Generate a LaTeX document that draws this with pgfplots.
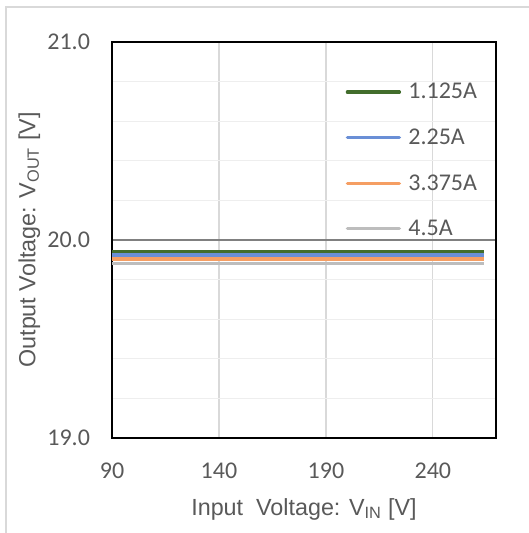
\documentclass[border=0pt]{standalone}
\usepackage{fontspec}
\setmainfont{Carlito}
\newfontfamily\arialf{Liberation Sans}
\usepackage{pgfplots}
\pgfplotsset{compat=1.18}
\definecolor{txt}{HTML}{595959}
\definecolor{cgreen}{HTML}{426D2C}
\definecolor{cblue}{HTML}{6A8FD6}
\definecolor{corange}{HTML}{F59E63}
\definecolor{cgray}{HTML}{BDBDBD}
\begin{document}
\begin{tikzpicture}
\useasboundingbox (0,0) rectangle (396.75pt,399.75pt);
\draw[color={rgb,255:red,217;green,217;blue,217}, line width=1.5pt] (4.5pt,0) -- (4.5pt,394.5pt) -- (396.75pt,394.5pt);
\begin{axis}[
  at={(84pt,71.25pt)}, anchor=south west,
  scale only axis, width=288pt, height=297pt,
  xmin=90, xmax=269.5, ymin=19, ymax=21,
  xtick={90,140,190,240}, ytick={19,20,21},
  minor ytick={19.2,19.4,19.6,19.8,20.2,20.4,20.6,20.8},
  tick style={draw=none},
  xmajorgrids, ymajorgrids, yminorgrids,
  x grid style={color={rgb,255:red,217;green,217;blue,217}, line width=0.9pt},
  major y grid style={color={rgb,255:red,128;green,128;blue,128}, line width=0.9pt},
  minor y grid style={color={rgb,255:red,238;green,238;blue,238}, line width=0.9pt},
  axis line style={black, line width=1.3pt},
  /pgf/number format/assume math mode=true,
  yticklabel style={/pgf/number format/fixed, /pgf/number format/fixed zerofill, /pgf/number format/precision=1, text=txt, font=\fontsize{18}{21}\selectfont, xshift=-13pt},
  xticklabel style={text=txt, font=\fontsize{18}{21}\selectfont, yshift=-15pt},
  xlabel={Input\ \ Voltage: V\textsubscript{IN} [V]},
  ylabel={Output Voltage: V\textsubscript{OUT} [V]},
  xlabel style={text=txt, font=\arialf\fontsize{17.5}{21}\selectfont, yshift=-8pt},
  ylabel style={text=txt, font=\arialf\fontsize{17.5}{21}\selectfont, yshift=-1.5pt},
  legend style={at={(0.608,0.903)}, anchor=north west, draw=none, fill=none,
    font=\fontsize{18}{21}\selectfont, text=txt, row sep=17pt, inner sep=0pt,
    /tikz/every odd column/.append style={column sep=3.5pt}},
  legend cell align=left,
  legend image code/.code={\draw[#1, line width=2.5pt, line cap=round] (0pt,0pt) -- (39pt,0pt);},
  every axis plot/.append style={line width=2.6pt},
]
\addplot[cgreen, no markers] coordinates {(90,19.941) (130,19.941) (170,19.941) (210,19.941) (264,19.941)};
\addlegendentry{1.125A}
\addplot[cblue, no markers] coordinates {(90,19.924) (130,19.924) (170,19.924) (210,19.924) (264,19.924)};
\addlegendentry{2.25A}
\addplot[corange, no markers] coordinates {(90,19.903) (130,19.903) (170,19.903) (210,19.903) (264,19.903)};
\addlegendentry{3.375A}
\addplot[cgray, no markers] coordinates {(90,19.881) (130,19.881) (170,19.881) (210,19.881) (264,19.881)};
\addlegendentry{4.5A}
\end{axis}
\end{tikzpicture}
\end{document}
